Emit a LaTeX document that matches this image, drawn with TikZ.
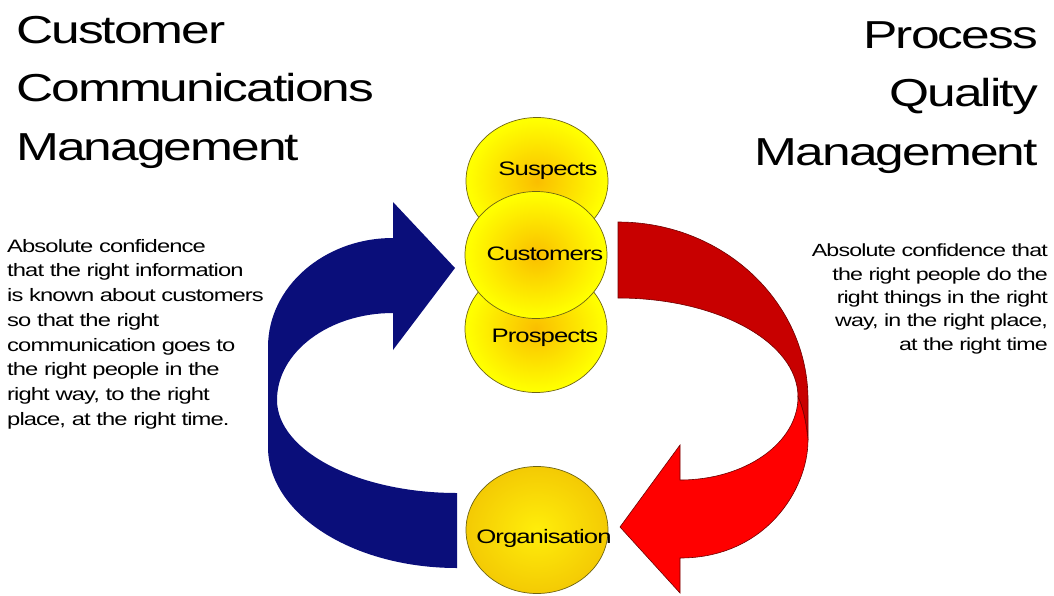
\documentclass[tikz,border=0pt]{standalone}
\usepackage{fontspec}
\setmainfont{Liberation Sans}
\newfontfamily\widesans[FakeStretch=1.32,LetterSpace=-5]{Liberation Sans}
\usetikzlibrary{shapes.geometric}

\definecolor{navyarrow}{RGB}{10,14,122}
\definecolor{darkred}{RGB}{200,0,0}
\definecolor{brightred}{RGB}{255,0,0}
\definecolor{redline}{RGB}{110,0,0}
\definecolor{orbedge}{RGB}{110,100,20}
\definecolor{orbcore}{RGB}{250,190,0}
\definecolor{orbrim}{RGB}{255,255,0}
\definecolor{orgcore}{RGB}{255,238,10}
\definecolor{orgrim}{RGB}{236,178,0}

\pgfdeclareradialshading{orbshade}{\pgfpoint{0bp}{0bp}}{color(0bp)=(orbcore); color(24bp)=(orbrim); color(50bp)=(orbrim)}
\pgfdeclareradialshading{orgshade}{\pgfpoint{0bp}{0bp}}{color(0bp)=(orgcore); color(42bp)=(orgrim); color(50bp)=(orgrim)}

\tikzset{
	orb/.style={ellipse, draw=orbedge, line width=0.7, minimum width=142, minimum height=127, inner sep=0, shading=orbshade},
	orblabel/.style={font=\widesans\fontsize{19.5}{20}\selectfont, anchor=base, inner sep=0},
	title/.style={font=\widesans\fontsize{39}{58.5}\selectfont, inner sep=0},
	blurb/.style={inner sep=0},
}

\begin{document}
\begin{tikzpicture}[x=1pt,y=-1pt]
	\useasboundingbox (0,0) rectangle (1054,595);
	% headings
	\node[title, align=left, anchor=north west] (ccm) at (16,16) {Customer\\Communications\\Management};
	\node[title, align=right, anchor=north east] (pqm) at (1038,21) {Process\\Quality\\Management};
	\node[blurb, align=left, anchor=north west, font=\widesans\fontsize{18}{24.7}\selectfont] (ccmtext) at (7,239)
		{Absolute confidence\\that the right information\\is known about customers\\so that the right\\communication goes to\\the right people in the\\right way, to the right\\place, at the right time.};
	\node[blurb, align=right, anchor=north east, font=\widesans\fontsize{17.6}{23.3}\selectfont] (pqmtext) at (1048,244)
		{Absolute confidence that\\the right people do the\\right things in the right\\way, in the right place,\\at the right time};
	% blue arrow
	\fill[navyarrow] (393,238) .. controls (324,238) and (268,287) .. (268,347) -- (268,447)
		.. controls (268,514) and (353,568) .. (457,568) -- (457,493)
		.. controls (358,493) and (277,451) .. (277,400)
		.. controls (277,352) and (329,313) .. (393,313) -- (393,350) -- (455,268) -- (393,202) -- cycle;
	% red arrow
	\filldraw[draw=redline, fill=darkred, line width=0.6] (618,222) .. controls (723,222) and (808,302) .. (808,400) -- (808,440)
		.. controls (806,420) and (802,405) .. (798,397)
		.. controls (798,342) and (717,298) .. (618,298) -- cycle;
	\filldraw[draw=redline, fill=brightred, line width=0.6] (798,397) .. controls (802,405) and (806,420) .. (808,440)
		.. controls (808,490) and (765,558) .. (680,558) -- (680,593) -- (620,527) -- (680,445) -- (680,480)
		.. controls (745,480) and (798,443) .. (798,397) -- cycle;
	% circles
	\node[orb] (suspects) at (537,181) {};
	\node[orb] (prospects) at (536,329) {};
	\node[orb] (customers) at (536,255) {};
	\node[orb, shading=orgshade] (organisation) at (537,530) {};
	\node[orblabel] (susplabel) at (548,175) {Suspects};
	\node[orblabel] (custlabel) at (545,260) {Customers};
	\node[orblabel] (prosplabel) at (545,342) {Prospects};
	\node[orblabel] (orglabel) at (544,543) {Organisation};
\end{tikzpicture}
\end{document}
